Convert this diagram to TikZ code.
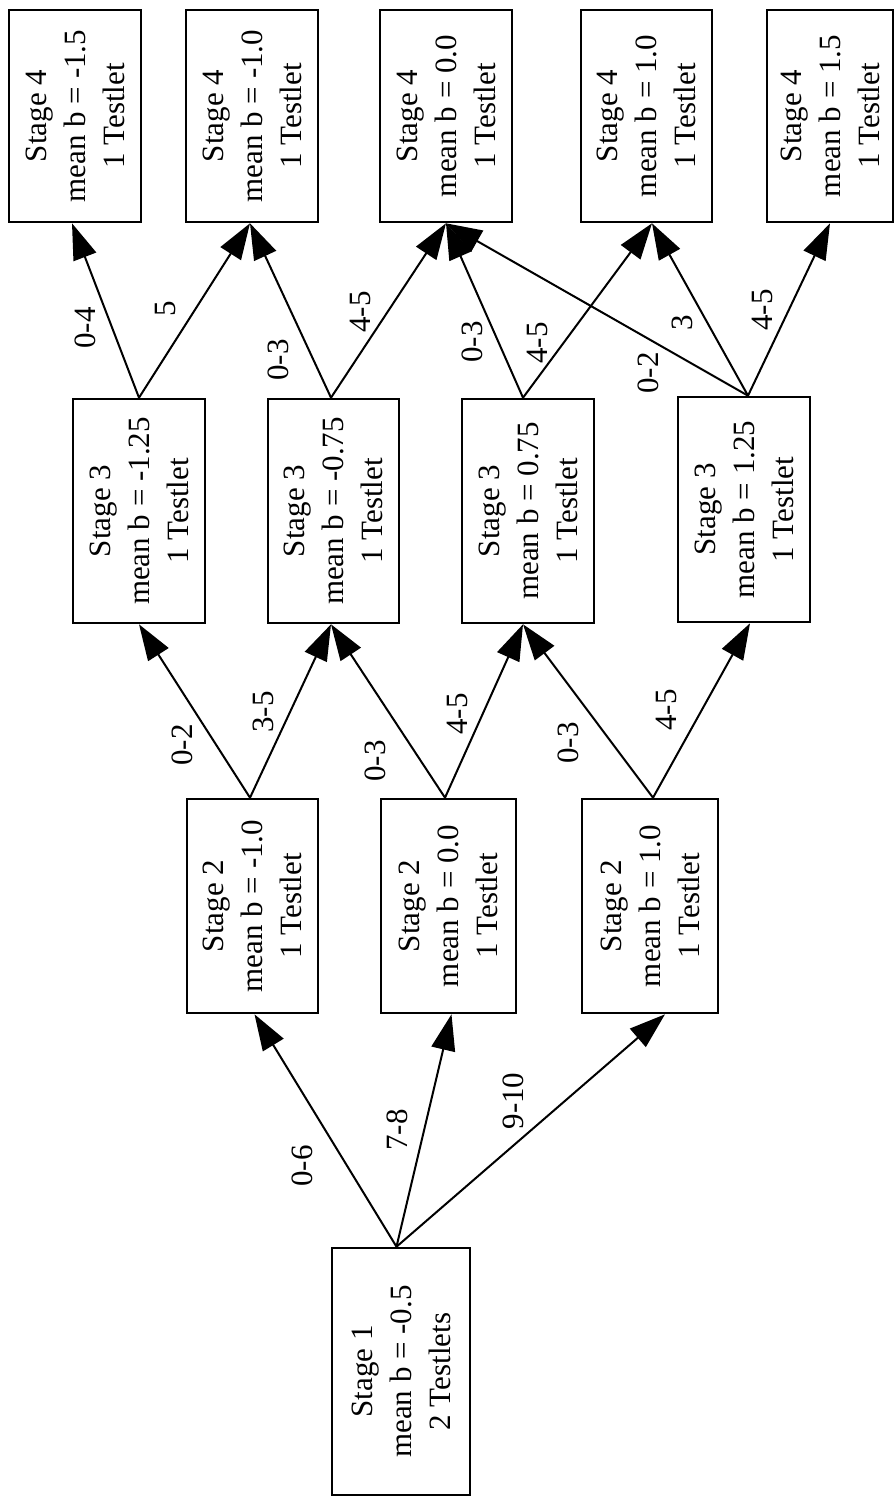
\documentclass[tikz,border=0pt]{standalone}
\usepackage{fontspec}
\setmainfont{Liberation Serif}
\usetikzlibrary{arrows.meta,calc}
\tikzset{
  box/.style={draw, line width=1.3pt, rotate=90, align=center, inner sep=0pt,
    font=\fontsize{15.5}{19.5}\selectfont},
  lbl/.style={rotate=90, inner sep=0pt, font=\fontsize{15.5}{19.5}\selectfont},
  arr/.style={line width=1pt, -{Triangle[length=18pt,width=12pt]}}
}
\begin{document}
\begin{tikzpicture}[x=0.5pt,y=-0.5pt]
\useasboundingbox (0,0) rectangle (894,1503);
% Stage 4
\node[box, minimum width=106pt, minimum height=66pt] (s4a) at (75,116) {Stage 4\\mean b = -1.5\\1 Testlet};
\node[box, minimum width=106pt, minimum height=66pt] (s4b) at (252,116) {Stage 4\\mean b = -1.0\\1 Testlet};
\node[box, minimum width=106pt, minimum height=66pt] (s4c) at (446,116) {Stage 4\\mean b = 0.0\\1 Testlet};
\node[box, minimum width=106pt, minimum height=65.5pt] (s4d) at (646.5,116) {Stage 4\\mean b = 1.0\\1 Testlet};
\node[box, minimum width=106pt, minimum height=63pt] (s4e) at (830,116) {Stage 4\\mean b = 1.5\\1 Testlet};
% Stage 3
\node[box, minimum width=112pt, minimum height=66pt] (s3a) at (139,511) {Stage 3\\mean b = -1.25\\1 Testlet};
\node[box, minimum width=112pt, minimum height=65.5pt] (s3b) at (333.5,511) {Stage 3\\mean b = -0.75\\1 Testlet};
\node[box, minimum width=112pt, minimum height=66pt] (s3c) at (528,511) {Stage 3\\mean b = 0.75\\1 Testlet};
\node[box, minimum width=112.5pt, minimum height=66pt] (s3d) at (744,509.5) {Stage 3\\mean b = 1.25\\1 Testlet};
% Stage 2
\node[box, minimum width=107pt, minimum height=65.5pt] (s2a) at (252.5,906) {Stage 2\\mean b = -1.0\\1 Testlet};
\node[box, minimum width=107pt, minimum height=67.5pt] (s2b) at (448.5,906) {Stage 2\\mean b = 0.0\\1 Testlet};
\node[box, minimum width=107pt, minimum height=68pt] (s2c) at (650,906) {Stage 2\\mean b = 1.0\\1 Testlet};
% Stage 1
\node[box, minimum width=123.5pt, minimum height=69pt] (s1) at (401,1371.5) {Stage 1\\mean b = -0.5\\2 Testlets};

% Stage 1 -> Stage 2
\draw[arr] ([xshift=-2.25pt]s1.east) -- ([xshift=1pt]s2a.west);
\draw[arr] ([xshift=-2.25pt]s1.east) -- ([xshift=1.5pt]s2b.west);
\draw[arr] ([xshift=-2.25pt]s1.east) -- ([xshift=7.5pt]s2c.west);
% Stage 2 -> Stage 3
\draw[arr] ([xshift=-1.25pt]s2a.east) -- (s3a.west);
\draw[arr] ([xshift=-1.25pt]s2a.east) -- ([xshift=-1.25pt]s3b.west);
\draw[arr] ([xshift=-1.75pt]s2b.east) -- ([xshift=-1.25pt]s3b.west);
\draw[arr] ([xshift=-1.75pt]s2b.east) -- ([xshift=-2.5pt]s3c.west);
\draw[arr] ([xshift=1.5pt]s2c.east) -- ([xshift=-2.5pt]s3c.west);
\draw[arr] ([xshift=1.5pt]s2c.east) -- ([xshift=3pt]s3d.west);
% Stage 3 -> Stage 4
\draw[arr] (s3a.east) -- ([xshift=-1.5pt]s4a.west);
\draw[arr] (s3a.east) -- ([xshift=-1pt]s4b.west);
\draw[arr] ([xshift=-1.25pt]s3b.east) -- ([xshift=-1pt]s4b.west);
\draw[arr] ([xshift=-1.25pt]s3b.east) -- (s4c.west);
\draw[arr] ([xshift=-2.5pt]s3c.east) -- (s4c.west);
\draw[arr] ([xshift=-2.5pt]s3c.east) -- ([xshift=2.75pt]s4d.west);
\draw[arr] ([xshift=2pt]s3d.east) -- (s4c.west);
\draw[arr] ([xshift=2pt]s3d.east) -- ([xshift=2.75pt]s4d.west);
\draw[arr] ([xshift=2pt]s3d.east) -- (s4e.west);

% labels
\node[lbl] (l1) at (302,1166) {0-6};
\node[lbl] (l2) at (397,1130) {7-8};
\node[lbl] (l3) at (513,1101) {9-10};
\node[lbl] (l4) at (182,745) {0-2};
\node[lbl] (l5) at (263,712) {3-5};
\node[lbl] (l6) at (375,761) {0-3};
\node[lbl] (l7) at (457,714) {4-5};
\node[lbl] (l8) at (568,743) {0-3};
\node[lbl] (l9) at (666,710) {4-5};
\node[lbl] (l10) at (85,328) {0-4};
\node[lbl] (l11) at (165,309) {5};
\node[lbl] (l12) at (278,360) {0-3};
\node[lbl] (l13) at (360,312) {4-5};
\node[lbl] (l14) at (472,342) {0-3};
\node[lbl] (l15) at (537,343) {4-5};
\node[lbl] (l16) at (648,373) {0-2};
\node[lbl] (l17) at (682,323) {3};
\node[lbl] (l18) at (762,310) {4-5};
\end{tikzpicture}
\end{document}
